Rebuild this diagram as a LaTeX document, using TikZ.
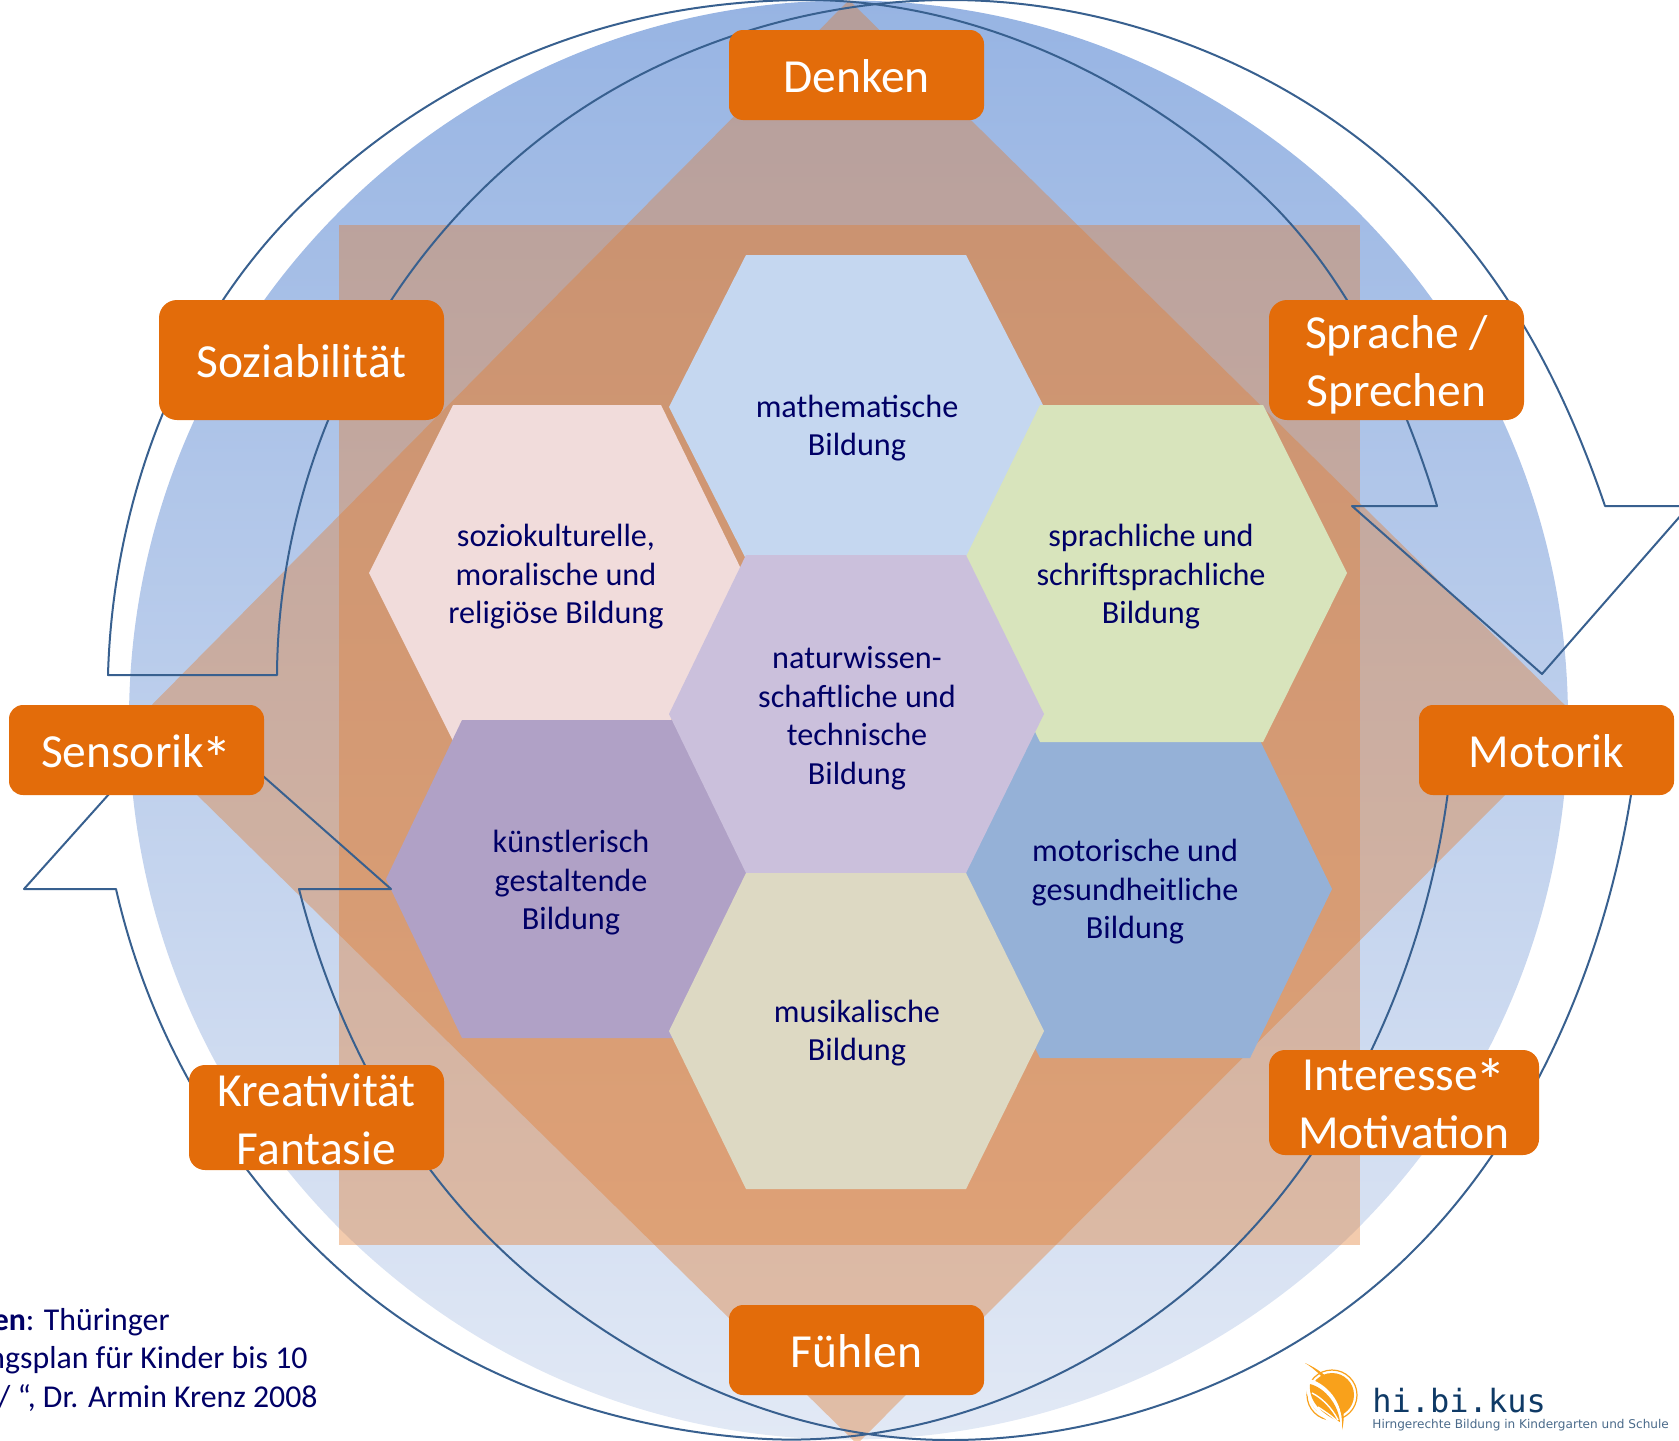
\documentclass[tikz,border=0pt]{standalone}
\usepackage{fontspec}
\setmainfont{Carlito}
\newfontfamily\logofont{DejaVu Sans Mono}
\newfontfamily\tagfont{DejaVu Sans}
\definecolor{boxor}{HTML}{E36C0A}
\definecolor{navytx}{HTML}{000066}
\definecolor{arrowc}{HTML}{38608F}
\definecolor{veil}{RGB}{226,125,49}
\definecolor{logoor}{HTML}{F9A11B}
\definecolor{logobl}{HTML}{0F3A66}
\definecolor{logogr}{HTML}{4A6A8A}
\tikzset{
  x=0.5pt,y=-0.5pt,
  lab/.style={fill=boxor,rounded corners=#1,inner sep=0pt},
  lab/.default=9pt,
  labtxt/.style={text=white,inner sep=0pt,align=center,font=\fontsize{23.75}{29}\selectfont},
  hextxt/.style={text=navytx,align=center,inner sep=0pt,font=\fontsize{16.1}{19.25}\selectfont},
  src/.style={text=navytx,inner sep=0pt,anchor=base east,font=\fontsize{15.9}{19}\selectfont},
  arrowline/.style={draw=arrowc,line width=1pt,line join=round},
  veilfill/.style={fill=veil,fill opacity=0.4},
}
\newcommand{\astk}{\kern-0.06em\raisebox{-0.55ex}[0pt][0pt]{\scalebox{1.3}{*}}}
\newcommand{\labbox}[7][9pt]{% name, left, right, top, bottom, text
  \node[lab=#1,minimum width={(#4-#3)*0.5pt},minimum height={(#6-#5)*0.5pt}] (#2) at ({(#3+#4)/2},{(#5+#6)/2}) {};
  \node[labtxt] (#2t) at ({(#3+#4)/2},{(#5+#6)/2+1.5}) {#7};}
\begin{document}
\begin{tikzpicture}
\useasboundingbox (0,0) rectangle (1679,1440);
\clip (0,0) rectangle (1679,1440);
% circle
\shade[top color={rgb,255:red,151;green,180;blue,227},bottom color={rgb,255:red,226;green,233;blue,245}] (848.5,720) circle[radius=719.5];
% diamond and square
\fill[veilfill] (849,0) -- (1580,720) -- (857,1444) -- (129,728) -- cycle;
\fill[veilfill] (339,225) rectangle (1360,1245);
% hexagons
\fill[fill={rgb,255:red,149;green,177;blue,215}] (1040,720) -- (1250,720) -- (1332,889) -- (1250,1058) -- (1040,1058) -- (957,889) -- cycle;
\fill[fill={rgb,255:red,241;green,220;blue,219}] (453,405) -- (661,405) -- (743,573) -- (661,741) -- (453,741) -- (369,573) -- cycle;
\fill[fill={rgb,255:red,176;green,161;blue,198}] (462,720) -- (680,720) -- (760,879) -- (680,1038) -- (462,1038) -- (386,879) -- cycle;
\fill[fill={rgb,255:red,197;green,215;blue,240}] (746,255) -- (966,255) -- (1044,407) -- (966,559) -- (746,559) -- (669,407) -- cycle;
\fill[fill={rgb,255:red,216;green,228;blue,188}] (1040,405) -- (1263,405) -- (1347,573) -- (1263,742) -- (1040,742) -- (958,573) -- cycle;
\fill[fill={rgb,255:red,203;green,192;blue,220}] (746,555) -- (966,555) -- (1044,714) -- (966,873) -- (746,873) -- (669,714) -- cycle;
\fill[fill={rgb,255:red,221;green,217;blue,195}] (746,873) -- (966,873) -- (1044,1031) -- (966,1189) -- (746,1189) -- (669,1031) -- cycle;
% hexagon texts
\node[hextxt] (tmath) at (857,428) {mathematische\\Bildung};
\node[hextxt] (tsoz) at (556,577) {soziokulturelle,\\moralische und\\religiöse Bildung};
\node[hextxt] (tspr) at (1151,577) {sprachliche und\\schriftsprachliche\\Bildung};
\node[hextxt] (tnat) at (857,718) {naturwissen-\\schaftliche und\\technische\\Bildung};
\node[hextxt] (tkun) at (571,883) {künstlerisch\\gestaltende\\Bildung};
\node[hextxt] (tmot) at (1135,892) {motorische und\\gesundheitliche\\Bildung};
\node[hextxt] (tmus) at (857,1033) {musikalische\\Bildung};
% circular arrows
\draw[arrowline] (108,675) .. controls (113,495) and (183,309) .. (321,187)
  .. controls (462,58) and (632,0) .. (807,0)
  .. controls (977,0) and (1146,82) .. (1268,200)
  .. controls (1352,282) and (1405,400) .. (1437,506)
  -- (1352,506) -- (1542,674) -- (1689,506) -- (1605,506)
  .. controls (1562,380) and (1500,261) .. (1393,167)
  .. controls (1273,61) and (1110,0) .. (950,0)
  .. controls (800,0) and (636,52) .. (511,163)
  .. controls (360,294) and (278,487) .. (277,675) -- cycle;
\draw[arrowline] (1453,740) .. controls (1441,925) and (1363,1119) .. (1232,1250)
  .. controls (1112,1370) and (937,1447) .. (767,1439)
  .. controls (612,1431) and (456,1375) .. (343,1273)
  .. controls (229,1172) and (150,1038) .. (116,889)
  -- (24,889) -- (186,708) -- (391,889) -- (299,889)
  .. controls (340,1050) and (424,1197) .. (557,1297)
  .. controls (671,1384) and (805,1440) .. (950,1440)
  .. controls (1118,1440) and (1292,1371) .. (1411,1253)
  .. controls (1544,1122) and (1620,924) .. (1638,740) -- cycle;
% label boxes
\labbox[7pt]{denken}{729}{984}{30}{120}{Denken}
\labbox[7pt]{fuehlen}{729}{984}{1305}{1395}{Fühlen}
\labbox{sozia}{159}{444}{300}{420}{Soziabilität}
\labbox{sprache}{1269}{1524}{300}{420}{}
\node[labtxt] (sprachet2) at (1396.5,365) {Sprache /\\Sprechen};
\labbox[7pt]{sensorik}{9}{264}{705}{795}{Sensorik\astk}
\labbox[7pt]{motorik}{1419}{1674}{705}{795}{Motorik}
\labbox[8pt]{kreativ}{189}{444}{1065}{1170}{Kreativität\\Fantasie}
\labbox[8pt]{interesse}{1269}{1539}{1050}{1155}{Interesse\astk\\Motivation}
% source text
\node[src] (src1) at (170,1330) {\textbf{en}: Thüringer};
\node[src] (src2) at (308,1368) {ngsplan für Kinder bis 10};
\node[src] (src3) at (318,1407) {/ “, Dr. Armin Krenz 2008};
% logo
\fill[logoor] (1332,1395) circle[radius=22];
\draw[logoor,line width=0.6pt] (1332,1395) circle[radius=25];
\fill[white] (1306,1378) .. controls (1326,1382) and (1344,1402) .. (1342,1428) .. controls (1328,1424) and (1302,1405) .. (1306,1378) -- cycle;
\fill[logoor] (1310,1384) .. controls (1325,1388) and (1338,1404) .. (1340,1422) .. controls (1326,1416) and (1308,1404) .. (1310,1384) -- cycle;
\draw[white,line width=0.7pt] (1312,1393) .. controls (1322,1398) and (1332,1408) .. (1338,1420);
\draw[white,line width=0.7pt] (1318,1407) .. controls (1324,1411) and (1332,1416) .. (1338,1422);
\fill[logoor] (1305,1363) .. controls (1330,1374) and (1350,1396) .. (1342,1430) .. controls (1344,1400) and (1326,1376) .. (1305,1363) -- cycle;
\node[inner sep=0pt,anchor=base west,text=logobl,font=\logofont\fontsize{16}{19}\selectfont] (logo) at (1372,1412) {hi.bi.kus};
\node[inner sep=0pt,anchor=base west,text=logogr,font=\tagfont\fontsize{6.04}{7}\selectfont] (tag) at (1372,1428) {Hirngerechte Bildung in Kindergarten und Schule};
\end{tikzpicture}
\end{document}
